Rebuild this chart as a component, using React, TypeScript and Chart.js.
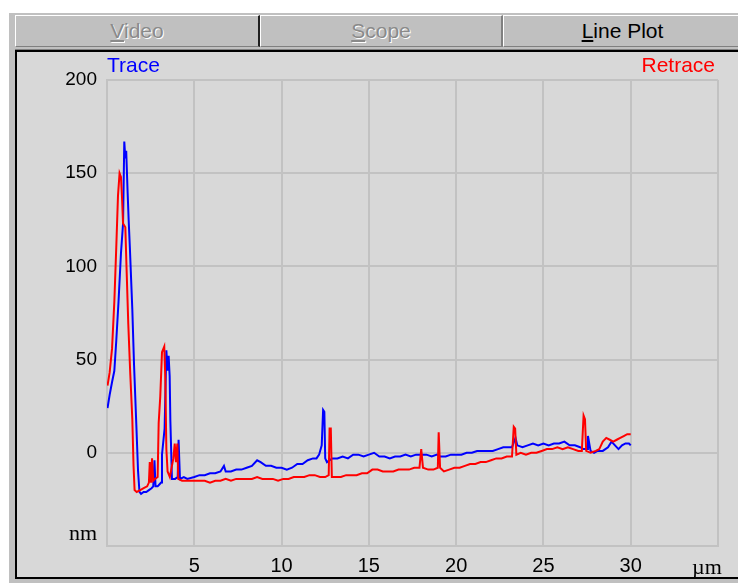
import React, { useEffect, useRef } from "react";
import { Chart, registerables } from "chart.js";

Chart.register(...registerables);

// ---- data (µm, nm) ----
const traceX = [
  0.03, 0.15, 0.29, 0.42, 0.53, 0.66, 0.8, 0.92, 0.99, 1.05, 1.1, 1.18, 1.24, 1.31, 1.45, 1.55, 1.68, 1.78, 1.86,
  1.95, 2.1, 2.25, 2.4, 2.55, 2.65, 2.72, 2.78, 2.9, 3.0, 3.1, 3.15, 3.3, 3.4, 3.47, 3.53, 3.59, 3.63, 3.72, 3.9,
  4.05, 4.1, 4.18, 4.4, 4.6, 5.0, 5.3, 5.6, 5.9, 6.2, 6.5, 6.7, 6.8, 7.1, 7.4, 7.7, 8.0, 8.3, 8.6, 8.8, 9.1, 9.4,
  9.7, 10.0, 10.3, 10.6, 10.9, 11.2, 11.5, 11.8, 12.0, 12.15, 12.3, 12.38, 12.45, 12.5, 12.6, 12.9, 13.2, 13.5,
  13.8, 14.1, 14.4, 14.7, 15.0, 15.3, 15.6, 15.9, 16.2, 16.5, 16.8, 17.1, 17.4, 17.7, 18.0, 18.3, 18.6, 18.9, 19.1,
  19.4, 19.7, 20.0, 20.3, 20.6, 20.9, 21.2, 21.5, 21.8, 22.1, 22.4, 22.7, 23.0, 23.2, 23.4, 23.5, 23.8, 24.1, 24.4,
  24.7, 25.0, 25.3, 25.6, 25.9, 26.2, 26.5, 26.8, 27.1, 27.3, 27.5, 27.55, 27.7, 27.9, 28.1, 28.4, 28.7, 28.9, 29.1,
  29.3, 29.5, 29.7, 29.9, 30.0,
];
const traceY = [
  24, 31, 38, 44, 60, 81, 107, 123, 167, 158, 162, 140, 125, 110, 77, 47, 15, -10, -21,
  -22, -21, -21, -20, -19, -18, -4, -18, -18, -17, -16, -1, 13, 55, 44, 52, 41, 17, -14, -14,
  -13, 7, -14, -13, -14, -13, -12, -12, -11, -11, -10, -7, -10, -10, -9, -9, -8, -7, -4, -5, -7, -7,
  -8, -8, -9, -8, -6, -6, -4, -3, -3, -1, 4, 23, 22, -3, -5, -3, -3, -2,
  -3, -1, -1, -2, -1, 0, -2, -2, -3, -2, -2, -1, -2, -1, -1, -1, -2, -1, -2,
  -2, -1, -1, -1, 0, 0, 1, 1, 1, 1, 2, 3, 3, 3, 8, 4, 3, 4, 5,
  4, 5, 4, 5, 5, 6, 4, 4, 3, 2, 2, 9, 1, 0, 1, 1, 3, 6, 4,
  2, 4, 5, 5, 4,
];
const retraceX = [
  0.03, 0.15, 0.29, 0.42, 0.53, 0.63, 0.72, 0.8, 0.86, 0.92, 1.05, 1.12, 1.22, 1.33, 1.45, 1.52, 1.58, 1.7, 1.9,
  2.1, 2.3, 2.4, 2.45, 2.52, 2.58, 2.65, 2.75, 2.9, 2.96, 3.05, 3.15, 3.28, 3.34, 3.4, 3.47, 3.6, 3.8, 3.88, 3.95,
  4.03, 4.08, 4.3, 4.6, 5.0, 5.3, 5.6, 5.9, 6.2, 6.5, 6.8, 7.1, 7.4, 7.7, 8.0, 8.3, 8.6, 8.9, 9.2, 9.5, 9.8, 10.1,
  10.4, 10.7, 11.0, 11.3, 11.6, 11.9, 12.2, 12.5, 12.7, 12.75, 12.82, 12.88, 13.1, 13.4, 13.7, 14.0, 14.3, 14.6,
  14.9, 15.2, 15.5, 15.8, 16.1, 16.4, 16.7, 17.0, 17.3, 17.6, 17.9, 18.0, 18.1, 18.4, 18.7, 18.95, 19.0, 19.08,
  19.3, 19.6, 19.9, 20.2, 20.5, 20.8, 21.1, 21.4, 21.7, 22.0, 22.3, 22.6, 22.9, 23.2, 23.3, 23.38, 23.45, 23.7,
  24.0, 24.3, 24.6, 24.9, 25.2, 25.5, 25.8, 26.1, 26.4, 26.7, 27.0, 27.2, 27.3, 27.38, 27.45, 27.7, 28.0, 28.2,
  28.4, 28.6, 28.8, 29.0, 29.2, 29.4, 29.6, 29.8, 30.0,
];
const retraceY = [
  36, 43, 56, 81, 110, 138, 150, 148, 137, 123, 121, 99, 69, 43, 18, -7, -20, -21, -20,
  -19, -18, -16, -5, -16, -3, -15, -14, -13, 16, 30, 54, 57, 40, 2, -10, -13, -3, 5, -5,
  5, -14, -15, -15, -15, -15, -15, -16, -15, -15, -14, -15, -14, -14, -14, -14, -13, -14, -14, -14, -15, -14,
  -14, -13, -13, -13, -12, -12, -13, -13, -12, 13, 13, -13, -13, -13, -12, -12, -12, -11,
  -11, -9, -9, -10, -10, -10, -9, -9, -9, -8, -8, 2, -8, -9, -9, -8, 11, -8,
  -10, -9, -8, -8, -7, -6, -6, -5, -5, -4, -3, -3, -2, -2, 14, 13, -1, 0,
  -1, 0, 0, 1, 2, 2, 3, 2, 3, 2, 1, 1, 20, 18, 1, 0, 1, 2,
  6, 8, 7, 6, 7, 8, 9, 10, 10,
];
const xTickLabels = [5, 10, 15, 20, 25, 30];
const yTickLabels = [0, 50, 100, 150, 200];
const seriesNames = ["Trace", "Retrace"];
const xUnit = "µm";
const yUnit = "nm";
const tabNames = ["Video", "Scope", "Line Plot"];

const SANS = '"Liberation Sans", Arial, sans-serif';
const SERIF = '"Liberation Serif", "Times New Roman", serif';

function PlotChart() {
  const ref = useRef<HTMLCanvasElement | null>(null);
  useEffect(() => {
    if (!ref.current) return;
    const labelsPlugin = {
      id: "unitsAndNames",
      afterDraw(chart: any) {
        const ctx = chart.ctx;
        const { left, right, top, bottom } = chart.chartArea;
        ctx.save();
        ctx.font = `21px ${SANS}`;
        ctx.textBaseline = "alphabetic";
        ctx.fillStyle = "#0000ff";
        ctx.textAlign = "left";
        ctx.fillText(seriesNames[0], left, top - 8);
        ctx.fillStyle = "#ff0000";
        ctx.textAlign = "right";
        ctx.fillText(seriesNames[1], right - 3, top - 8);
        ctx.fillStyle = "#000";
        ctx.font = `22px ${SERIF}`;
        ctx.textAlign = "right";
        ctx.fillText(yUnit, left - 10, bottom - 6);
        ctx.textAlign = "center";
        ctx.fillText(xUnit, right - 11, bottom + 28);
        ctx.restore();
      },
    };
    const chart = new Chart(ref.current, {
      type: "line",
      data: {
        datasets: [
          {
            label: seriesNames[0],
            data: traceX.map((x, i) => ({ x, y: traceY[i] })),
            borderColor: "#0000ff",
            borderWidth: 2,
            pointRadius: 0,
            tension: 0,
            order: 1,
          },
          {
            label: seriesNames[1],
            data: retraceX.map((x, i) => ({ x, y: retraceY[i] })),
            borderColor: "#ff0000",
            borderWidth: 2,
            pointRadius: 0,
            tension: 0,
            order: 0,
          },
        ],
      },
      options: {
        animation: false,
        responsive: false,
        devicePixelRatio: 1,
        layout: { padding: { top: 27, right: 20, left: 0, bottom: 0 } },
        plugins: { legend: { display: false }, tooltip: { enabled: false } },
        scales: {
          x: {
            type: "linear",
            min: 0,
            max: 35,
            afterFit: (s: any) => {
              s.height = 31;
            },
            ticks: {
              stepSize: 5,
              autoSkip: false,
              maxRotation: 0,
              padding: 8,
              color: "#000",
              font: { family: SANS, size: 20 },
              callback: (v: any) => (xTickLabels.includes(v) ? String(v) : ""),
            },
            grid: { color: "#c2c2c2", lineWidth: 2, drawTicks: false },
            border: { color: "#c2c2c2", width: 2 },
          },
          y: {
            type: "linear",
            min: -50,
            max: 200,
            afterFit: (s: any) => {
              s.width = 90;
            },
            ticks: {
              stepSize: 50,
              autoSkip: false,
              padding: 10,
              color: "#000",
              font: { family: SANS, size: 19 },
              callback: (v: any) => (yTickLabels.includes(v) ? String(v) : ""),
            },
            grid: { color: "#c2c2c2", lineWidth: 2, drawTicks: false },
            border: { color: "#c2c2c2", width: 2 },
          },
        },
      },
      plugins: [labelsPlugin],
    } as any);
    return () => chart.destroy();
  }, []);
  return (
    <canvas
      ref={ref}
      width={721}
      height={524}
      style={{ position: "absolute", left: 17, top: 53, width: 721, height: 524 }}
    />
  );
}

function Tab({ name, left, width, enabled, sepColor }: any) {
  return (
    <div
      style={{
        position: "absolute",
        left,
        top: 15,
        width,
        height: 32,
        boxSizing: "border-box",
        background: "#c0c0c0",
        borderTop: "1px solid #ffffff",
        borderLeft: "1px solid #ffffff",
        borderRight: `2px solid ${sepColor}`,
        borderBottom: "1px solid #808080",
        textAlign: "center",
        fontFamily: SANS,
        fontSize: 21,
        lineHeight: "30px",
        color: enabled ? "#000" : "#8a8a8a",
        textShadow: enabled ? "none" : "1px 1px 0 #ffffff",
        whiteSpace: "nowrap",
      }}
    >
      <u>{name[0]}</u>
      {name.slice(1)}
    </div>
  );
}

export default function App() {
  return (
    <div
      style={{
        position: "fixed",
        left: 0,
        top: 0,
        width: 738,
        height: 583,
        background: "#ffffff",
        overflow: "hidden",
      }}
    >
      <div style={{ position: "absolute", left: 9, top: 13, right: 0, bottom: 0, background: "#c0c0c0" }} />
      <Tab name={tabNames[0]} left={15} width={245} enabled={false} sepColor="#202020" />
      <Tab name={tabNames[1]} left={260} width={243} enabled={false} sepColor="#808080" />
      <Tab name={tabNames[2]} left={503} width={240} enabled={true} sepColor="#808080" />
      <div style={{ position: "absolute", left: 15, top: 49, width: 740, height: 1, background: "#808080" }} />
      <div
        style={{
          position: "absolute",
          left: 15,
          top: 50,
          width: 740,
          height: 529,
          boxSizing: "border-box",
          background: "#d8d8d8",
          borderTop: "2px solid #000",
          borderLeft: "2px solid #000",
          borderBottom: "2px solid #000",
        }}
      />
      <PlotChart />
    </div>
  );
}
